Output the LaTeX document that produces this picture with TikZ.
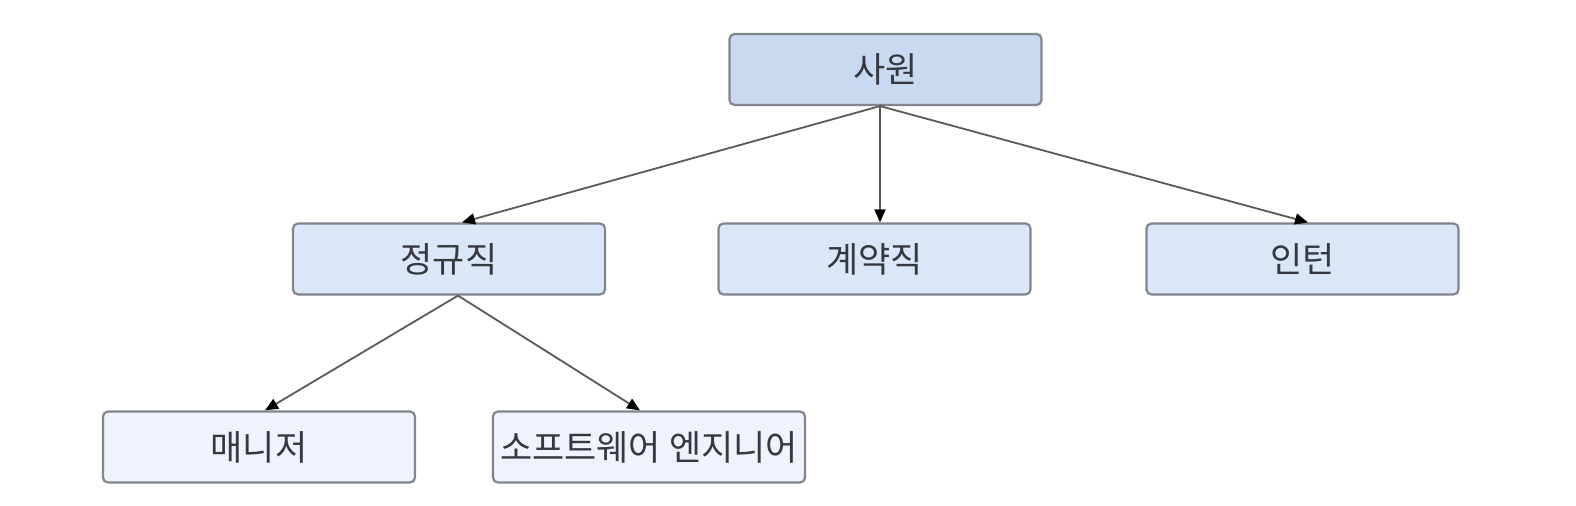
\documentclass[tikz,border=0pt]{standalone}
\usepackage{fontspec}
\setmainfont{Noto Sans CJK KR}
\usetikzlibrary{arrows.meta,calc}
\definecolor{topfill}{HTML}{C9D9F2}
\definecolor{midfill}{HTML}{DBE7F8}
\definecolor{lowfill}{HTML}{EEF3FC}
\definecolor{boxline}{HTML}{80858E}
\definecolor{txt}{HTML}{363840}
\definecolor{arrline}{HTML}{5A5A5A}
\tikzset{
  box/.style={draw=boxline, line width=1.1pt, rounded corners=2.5pt,
    minimum width=156pt, minimum height=35.5pt, inner sep=0pt,
    text=txt, font=\fontsize{17.5}{19}\selectfont},
  lvl0/.style={box, fill=topfill},
  lvl1/.style={box, fill=midfill},
  lvl2/.style={box, fill=lowfill},
  link/.style={draw=arrline, line width=0.9pt,
    -{Triangle[length=6.5pt,width=5.5pt,fill=black,color=black]}}
}
\begin{document}
\begin{tikzpicture}[x=0.5pt,y=-0.5pt]
\useasboundingbox[fill=white] (0,0) rectangle (1576,506);
\node[lvl0] (top) at (885.5,69.5) {사원};
\node[lvl1] (jung) at (449,259) {정규직};
\node[lvl1] (kye) at (874.5,259) {계약직};
\node[lvl1] (intern) at (1302.5,259) {인턴};
\node[lvl2] (mgr) at (259,447) {매니저};
\node[lvl2] (sw) at (649,447) {소프트웨어 엔지니어};
\coordinate (topsrc) at ($(top.south)+(-5.5,0)$);
\coordinate (jungsrc) at ($(jung.south)+(9,0)$);
\draw[link] (topsrc) -- ($(jung.north)+(13,0)$);
\draw[link] (topsrc) -- ($(kye.north)+(5.5,0)$);
\draw[link] (topsrc) -- ($(intern.north)+(5.5,0)$);
\draw[link] (jungsrc) -- ($(mgr.north)+(6,0)$);
\draw[link] (jungsrc) -- ($(sw.north)+(-9,0)$);
\end{tikzpicture}
\end{document}
